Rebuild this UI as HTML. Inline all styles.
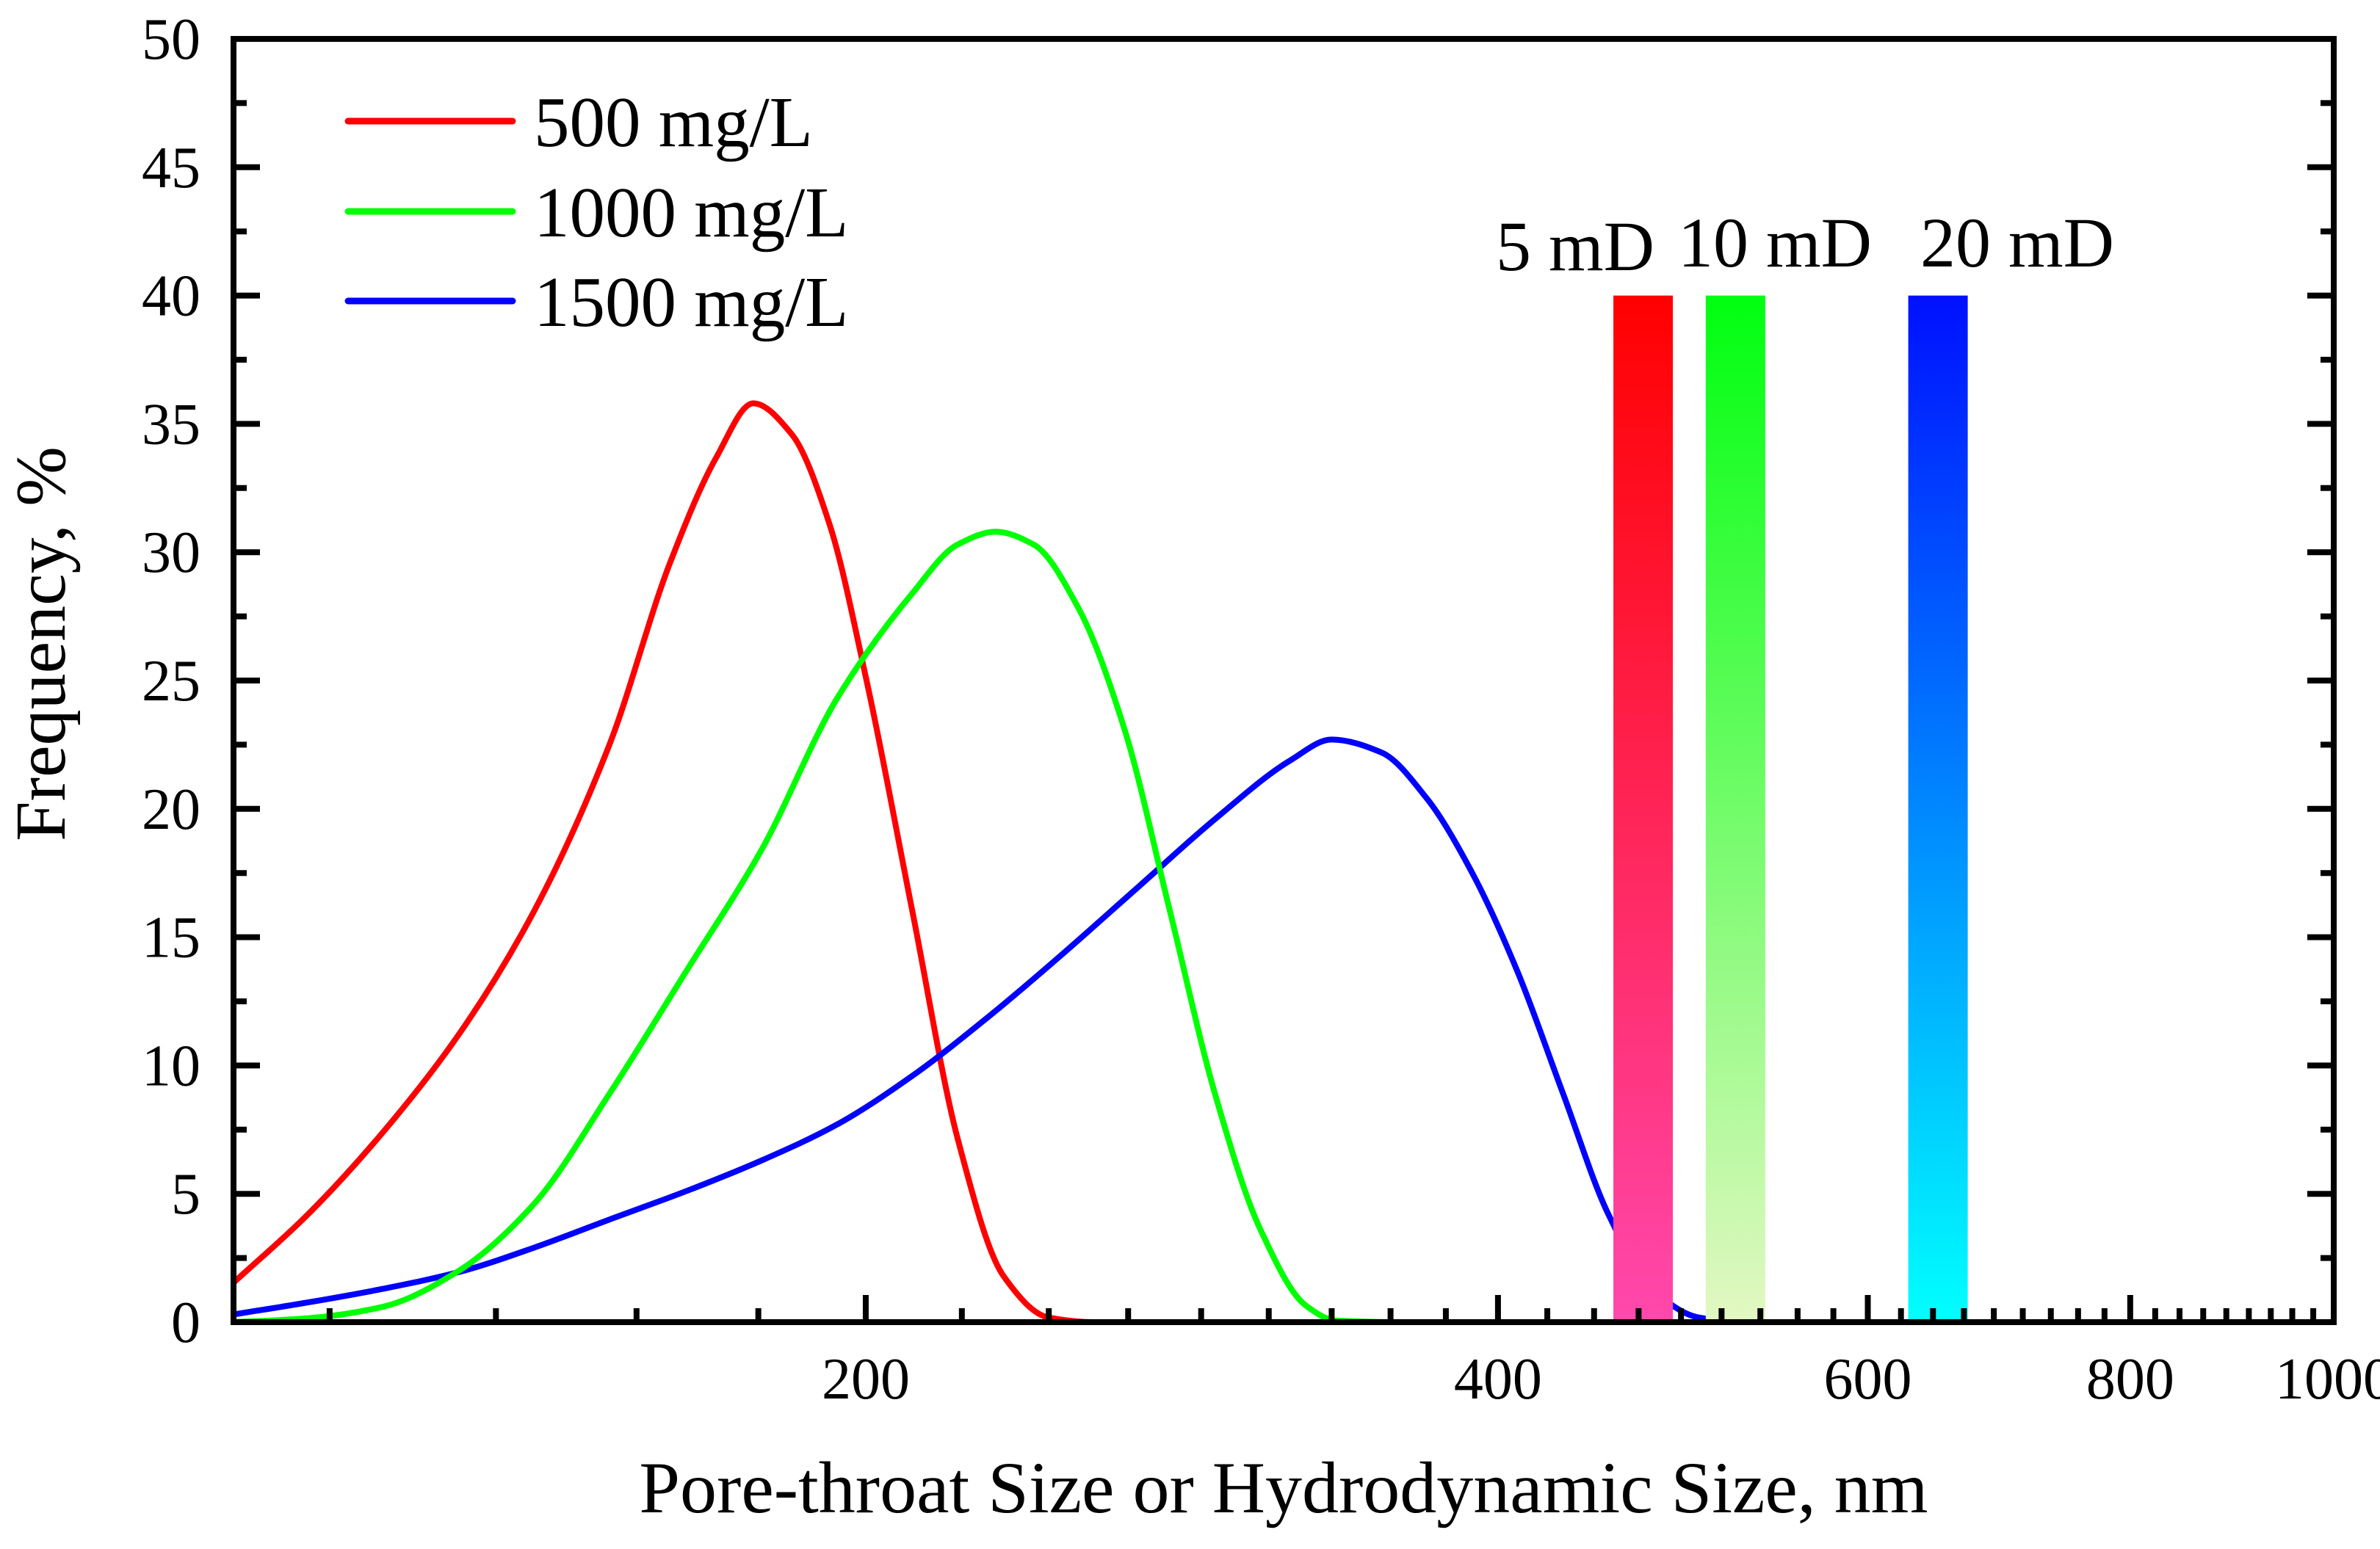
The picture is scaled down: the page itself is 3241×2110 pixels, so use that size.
<!DOCTYPE html>
<html><head><meta charset="utf-8"><style>
html,body{margin:0;padding:0;background:#fff}
svg{display:block}
text{font-family:"Liberation Serif","Times New Roman",serif;fill:#000}
</style></head><body>
<svg id="chart" width="3241" height="2110" viewBox="0 0 3241 2110" xmlns="http://www.w3.org/2000/svg">
<defs>
<linearGradient id="g5" x1="0" y1="0" x2="0" y2="1"><stop offset="0" stop-color="#ff0000"/><stop offset="1" stop-color="#ff48ac"/></linearGradient>
<linearGradient id="g10" x1="0" y1="0" x2="0" y2="1"><stop offset="0" stop-color="#00ff10"/><stop offset="1" stop-color="#e2f8c2"/></linearGradient>
<linearGradient id="g20" x1="0" y1="0" x2="0" y2="1"><stop offset="0" stop-color="#0010ff"/><stop offset="1" stop-color="#00ffff"/></linearGradient>
</defs>
<g id="curves"></g>
<g id="bars"></g>
<g id="axes"></g>
<g id="legend"></g>
<text x="1748" y="2060" font-size="100" text-anchor="middle">Pore-throat Size or Hydrodynamic Size, nm</text>
<text transform="translate(88,877) rotate(-90)" font-size="98" text-anchor="middle">Frequency, %</text>
</svg>
<script>
const xTickValues = [200, 400, 600, 800, 1000];
const xTickLabels = ["200", "400", "600", "800", "1000"];
const yTickValues = [0, 5, 10, 15, 20, 25, 30, 35, 40, 45, 50];
const yTickLabels = ["0", "5", "10", "15", "20", "25", "30", "35", "40", "45", "50"];
const seriesNames = ["500 mg/L", "1000 mg/L", "1500 mg/L"];
const seriesColors = ["#ff0000", "#00ff00", "#0000ff"];
const redX = [100, 108.5, 117.8, 128, 139, 151, 161.4, 169.8, 176.8, 184.4, 192.2, 200.3, 210.5, 221.2, 232.6, 244.4, 256.9, 300, 1000];
const redY = [1.54, 4.2, 7.4, 11.2, 16.0, 22.5, 29.6, 33.7, 35.8, 34.6, 31.1, 24.9, 16.0, 7.15, 1.8, 0.18, 0, 0, 0];
const greenX = [100, 108.5, 117.8, 128, 139, 151, 164.2, 178.4, 193.8, 210.5, 221.2, 230.6, 240.4, 252.6, 265.6, 279.2, 293.3, 308.3, 324, 335, 360, 1000];
const greenY = [0, 0.15, 0.6, 2.0, 4.6, 8.9, 13.65, 18.4, 24.3, 28.4, 30.3, 30.8, 30.3, 27.8, 23.1, 16.0, 8.9, 3.6, 0.65, 0.06, 0, 0];
const blueX = [100, 108.5, 117.8, 128, 139, 151, 164.2, 178.4, 193.8, 210.5, 228.8, 248.6, 270, 293.3, 318.7, 333.3, 352, 370, 388.9, 408.7, 429.6, 451.5, 474.4, 498.6, 524, 560, 1000];
const blueY = [0.3, 0.77, 1.3, 1.95, 2.9, 4.0, 5.1, 6.3, 7.7, 9.6, 11.9, 14.4, 17.0, 19.6, 21.9, 22.7, 22.2, 20.4, 17.5, 13.65, 8.9, 4.2, 1.24, 0.18, 0, 0, 0];
const barLabels = ["5 mD", "10 mD", "20 mD"];
const barCenters = [469, 519, 648];
const barHeights = [40, 40, 40];

const NS = "http://www.w3.org/2000/svg";
const L = 318, R = 3178, T = 53, B = 1801;
function xs(v){ return L + (R - L) * Math.log10(v / 100); }
function ys(v){ return B - (B - T) * v / 50; }
function mk(tag, attrs, parent){ const e = document.createElementNS(NS, tag); for (const k in attrs) e.setAttribute(k, attrs[k]); parent.appendChild(e); return e; }

// monotone cubic (Fritsch-Carlson) in pixel space
function smoothPath(xArr, yArr){
  const px = xArr.map(xs), py = yArr.map(ys), n = px.length;
  const d = [], m = new Array(n);
  for (let i = 0; i < n - 1; i++) d.push((py[i+1] - py[i]) / (px[i+1] - px[i]));
  m[0] = d[0]; m[n-1] = d[n-2];
  for (let i = 1; i < n - 1; i++){
    if (d[i-1] * d[i] <= 0) m[i] = 0;
    else { const h0 = px[i] - px[i-1], h1 = px[i+1] - px[i];
      const w1 = 2*h1 + h0, w2 = h1 + 2*h0;
      m[i] = (w1 + w2) / (w1 / d[i-1] + w2 / d[i]); }
  }
  let s = "M" + px[0].toFixed(1) + "," + py[0].toFixed(1);
  for (let i = 0; i < n - 1; i++){
    const h = px[i+1] - px[i];
    s += "C" + (px[i] + h/3).toFixed(1) + "," + (py[i] + m[i]*h/3).toFixed(1) + " " +
         (px[i+1] - h/3).toFixed(1) + "," + (py[i+1] - m[i+1]*h/3).toFixed(1) + " " +
         px[i+1].toFixed(1) + "," + py[i+1].toFixed(1);
  }
  return s;
}

const curves = document.getElementById("curves");
const seriesData = [[redX, redY], [blueX, blueY], [greenX, greenY]];
const seriesIdx = [0, 2, 1];
const curveNames = ["curve-500-mg-l", "curve-1500-mg-l", "curve-1000-mg-l"];
seriesData.forEach((s, k) => {
  const el = mk("path", {d: smoothPath(s[0], s[1]), fill: "none", stroke: seriesColors[seriesIdx[k]], "stroke-width": 8, "stroke-linejoin": "round", "stroke-linecap": "round"}, curves);
  
  
});

const bars = document.getElementById("bars");
const grads = ["url(#g5)", "url(#g10)", "url(#g20)"];
const labelCx = [2145, 2417, 2747];
const labelBase = [368, 363, 363];
barCenters.forEach((c, i) => {
  const cx = xs(c);
  const r = mk("rect", {x: cx - 40.5, y: ys(barHeights[i]), width: 81, height: B - 4 - ys(barHeights[i]), fill: grads[i]}, bars);
  
  
  const t = mk("text", {x: labelCx[i], y: labelBase[i], "font-size": 96, "text-anchor": "middle"}, bars);
  t.textContent = barLabels[i];
  
  
});

const axes = document.getElementById("axes");
for (let k = 5; k <= 45; k++){
  if (k % 9 === 0) continue;
  const x = xs(200 * k / 9);
  const tk = mk("line", {x1: x, x2: x, y1: B, y2: B - 19, stroke: "#000", "stroke-width": 8}, axes);
  
  
}
xTickValues.forEach((v, i) => {
  const x = xs(v);
  const tk = mk("line", {x1: x, x2: x, y1: B, y2: B - 37, stroke: "#000", "stroke-width": 8}, axes);
  
  
  const t = mk("text", {x: x, y: 1905, "font-size": 80, "text-anchor": "middle"}, axes);
  t.textContent = xTickLabels[i];
  
  
});
yTickValues.forEach((v, i) => {
  const y = ys(v);
  [[L, 1], [R, -1]].forEach(([ax, dir]) => {
    const tk = mk("line", {x1: ax, x2: ax + dir * 36, y1: y, y2: y, stroke: "#000", "stroke-width": 8}, axes);
    
    
    if (i < yTickValues.length - 1){
      const ym = ys(v + 2.5);
      const mt = mk("line", {x1: ax, x2: ax + dir * 18, y1: ym, y2: ym, stroke: "#000", "stroke-width": 8}, axes);
      
      
    }
  });
  const t = mk("text", {x: 273, y: y + 27, "font-size": 80, "text-anchor": "end"}, axes);
  t.textContent = yTickLabels[i];
  
  
});
const frame = mk("rect", {x: L, y: T, width: R - L, height: B - T, fill: "none", stroke: "#000", "stroke-width": 8}, axes);



const legend = document.getElementById("legend");
const legY = [165, 288, 410];
seriesNames.forEach((n, i) => {
  const ln = mk("line", {x1: 474, x2: 698, y1: legY[i], y2: legY[i], stroke: seriesColors[i], "stroke-width": 9, "stroke-linecap": "round"}, legend);
  
  
  const t = mk("text", {x: 727, y: legY[i] + 34, "font-size": 97}, legend);
  t.textContent = n;
  
  
});
</script>
</body></html>
